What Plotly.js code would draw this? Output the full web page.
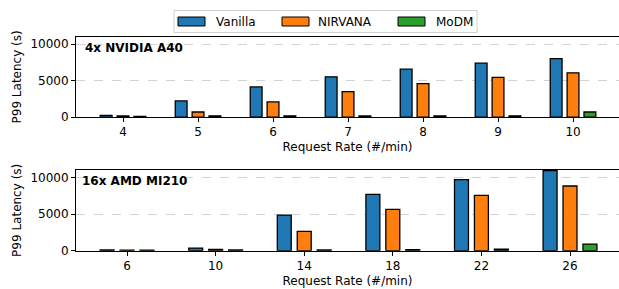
<!DOCTYPE html>
<html>
<head>
<meta charset="utf-8">
<script src="https://cdn.plot.ly/plotly-3.0.1.min.js"></script>
<style>html,body{margin:0;padding:0;background:#fff;}#chart{width:619px;height:289px;}</style>
</head>
<body>
<div id="chart"></div>
<script>
// Top panel: 4x NVIDIA A40
const ratesA40 = ['4', '5', '6', '7', '8', '9', '10'];
const vanillaA40 = [220, 2200, 4130, 5500, 6560, 7380, 7990];
const nirvanaA40 = [150, 690, 2070, 3490, 4580, 5420, 6060];
const modmA40 = [100, 160, 160, 150, 150, 170, 690];

// Bottom panel: 16x AMD MI210
const ratesMI210 = ['6', '10', '14', '18', '22', '26'];
const vanillaMI210 = [100, 360, 4860, 7680, 9680, 10900];
const nirvanaMI210 = [80, 180, 2640, 5640, 7550, 8820];
const modmMI210 = [80, 100, 100, 150, 200, 910];

const seriesNames = ['Vanilla', 'NIRVANA', 'MoDM'];
const seriesColors = ['#1f77b4', '#ff7f0e', '#2ca02c'];
const panelLabels = ['4x NVIDIA A40', '16x AMD MI210'];

const FONT = 'DejaVu Sans, sans-serif';
const W = 619, H = 289, ML = 76;
const traces = [];
const topData = [vanillaA40, nirvanaA40, modmA40];
const botData = [vanillaMI210, nirvanaMI210, modmMI210];
for (let i = 0; i < 3; i++) {
  traces.push({
    type: 'bar', name: seriesNames[i], x: ratesA40, y: topData[i],
    xaxis: 'x', yaxis: 'y', showlegend: false,
    marker: {color: seriesColors[i], line: {color: '#000', width: 1.3}}
  });
}
for (let i = 0; i < 3; i++) {
  traces.push({
    type: 'bar', name: seriesNames[i], x: ratesMI210, y: botData[i],
    xaxis: 'x2', yaxis: 'y2', showlegend: false,
    marker: {color: seriesColors[i], line: {color: '#000', width: 1.3}}
  });
}

const yaxisBase = {
  range: [0, 11000], tickvals: [0, 5000, 10000], tickformat: 'd', ticks: 'outside', ticklen: 4,
  tickcolor: '#000', showline: true, linecolor: '#000', linewidth: 1, mirror: true,
  showgrid: true, gridcolor: '#c8c8c8', griddash: 'dash', gridwidth: 0.8,
  zeroline: false, tickfont: {size: 12, color: '#000'}, automargin: false,
  title: {text: 'P99 Latency (s)', font: {size: 12, color: '#000'}, standoff: 6}
};
const xaxisBase = {
  type: 'category', ticks: 'outside', ticklen: 4, tickcolor: '#000',
  showline: true, linecolor: '#000', linewidth: 1, mirror: true, automargin: false,
  showgrid: false, zeroline: false, tickfont: {size: 12, color: '#000'},
  title: {text: 'Request Rate (#/min)', font: {size: 12, color: '#000'}, standoff: 4}
};

// Legend drawn as paper-space shapes + text (matplotlib-style wide patches)
const legBox = {x0: 174, x1: 477, y0: 10.5, y1: 32.5};
const patchX = [178, 282, 398];
const textX = [214, 316, 434];
const px = v => (v - ML) / (W - ML);
const py = v => 1 - v / H;
const shapes = [{
  type: 'rect', xref: 'paper', yref: 'paper',
  x0: px(legBox.x0), x1: px(legBox.x1), y0: py(legBox.y1), y1: py(legBox.y0),
  line: {color: '#d0d0d0', width: 1}, fillcolor: 'rgba(255,255,255,0.8)'
}];
const annotations = [
  {text: '<b>' + panelLabels[0] + '</b>', xref: 'x domain', yref: 'y domain', x: 0.013, y: 0.97,
   xanchor: 'left', yanchor: 'top', showarrow: false, font: {size: 12, color: '#000'}},
  {text: '<b>' + panelLabels[1] + '</b>', xref: 'x2 domain', yref: 'y2 domain', x: 0.008, y: 0.97,
   xanchor: 'left', yanchor: 'top', showarrow: false, font: {size: 12, color: '#000'}}
];
for (let i = 0; i < 3; i++) {
  shapes.push({
    type: 'rect', xref: 'paper', yref: 'paper',
    x0: px(patchX[i]), x1: px(patchX[i] + 27), y0: py(26), y1: py(17),
    line: {color: '#000', width: 1}, fillcolor: seriesColors[i]
  });
  annotations.push({
    text: seriesNames[i], xref: 'paper', yref: 'paper', x: px(textX[i]), y: py(21.5),
    xanchor: 'left', yanchor: 'middle', showarrow: false, font: {size: 12, color: '#000'}
  });
}

const layout = {
  width: W, height: H,
  margin: {l: ML, r: 0, t: 0, b: 0},
  paper_bgcolor: '#fff', plot_bgcolor: '#fff',
  font: {family: FONT, size: 12, color: '#000'},
  barmode: 'group', bargap: 0.325, bargroupgap: 0.3,
  showlegend: false,
  xaxis: Object.assign({}, xaxisBase, {anchor: 'y', range: [-0.627, 6.613], domain: [0, 1]}),
  yaxis: Object.assign({}, yaxisBase, {anchor: 'x', domain: [0.595, 0.873]}),
  xaxis2: Object.assign({}, xaxisBase, {anchor: 'y2', range: [-0.576, 5.553], domain: [0, 1]}),
  yaxis2: Object.assign({}, yaxisBase, {anchor: 'x2', domain: [0.1325, 0.4118]}),
  shapes: shapes,
  annotations: annotations
};

Plotly.newPlot('chart', traces, layout, {staticPlot: true, displayModeBar: false});
</script>
</body>
</html>
